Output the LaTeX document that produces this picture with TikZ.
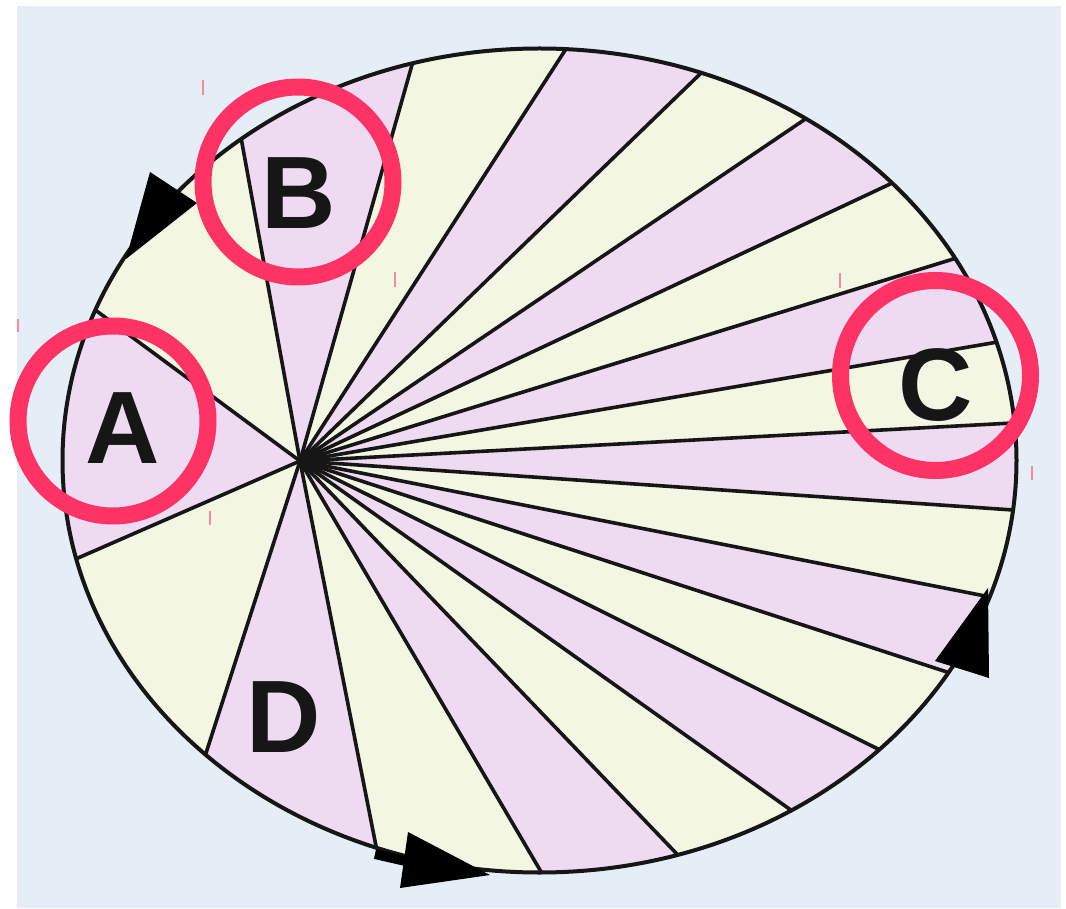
\documentclass[tikz,border=0pt]{standalone}
\usepackage{fontspec}
\setmainfont{Liberation Sans}
\usetikzlibrary{calc}
\definecolor{bgblue}{HTML}{E5EEF7}
\definecolor{pinkfill}{HTML}{EEDAF1}
\definecolor{yellowfill}{HTML}{F2F6E3}
\definecolor{ringred}{HTML}{FF3366}
\definecolor{tickred}{HTML}{F58AA0}
\definecolor{inkdark}{HTML}{161616}
\tikzset{
  spoke/.style={draw=inkdark, line width=3.6pt},
  rim/.style={draw=inkdark, line width=4pt},
  ring/.style={draw=ringred, line width=17pt, circle, minimum size=190pt, inner sep=0pt},
  letter/.style={font=\fontsize{103}{103}\selectfont\bfseries, text=inkdark, inner sep=0pt},
  tickmark/.style={draw=tickred, line width=1.6pt},
  arrowhead/.style={fill=black}
}
\begin{document}
\begin{tikzpicture}[x=1pt,y=-1pt]
\useasboundingbox (0,0) rectangle (1066,909);
\fill[white] (0,0) rectangle (1066,909);
\fill[bgblue] (17,6) rectangle (1061,908);

\coordinate (E) at (539.5,460.5);
\coordinate (F) at (300,461);
\coordinate (p1) at (98,312);
\coordinate (p2) at (242,143);
\coordinate (p3) at (410,72);
\coordinate (p4) at (564,52);
\coordinate (p5) at (697,77);
\coordinate (p6) at (801,122);
\coordinate (p7) at (888,185);
\coordinate (p8) at (950,260);
\coordinate (p9) at (992,343);
\coordinate (p10) at (1013,423);
\coordinate (p11) at (1013,510);
\coordinate (p12) at (980,595);
\coordinate (p13) at (950,673);
\coordinate (p14) at (878,749);
\coordinate (p15) at (788,808);
\coordinate (p16) at (675,852);
\coordinate (p17) at (540,870);
\coordinate (p18) at (376,846);
\coordinate (p19) at (207,750);
\coordinate (p20) at (78,558);

\begin{scope}
  \clip (E) ellipse [x radius=477pt, y radius=412pt];
  \fill[yellowfill] (E) ellipse [x radius=477pt, y radius=412pt];
  \foreach \i/\j/\c in {1/2/yellowfill,2/3/pinkfill,3/4/yellowfill,4/5/pinkfill,
      5/6/yellowfill,6/7/pinkfill,7/8/yellowfill,8/9/pinkfill,9/10/yellowfill,
      10/11/pinkfill,11/12/yellowfill,12/13/pinkfill,13/14/yellowfill,14/15/pinkfill,
      15/16/yellowfill,16/17/pinkfill,17/18/yellowfill,18/19/pinkfill,
      19/20/yellowfill,20/1/pinkfill}
    \fill[\c] (F) -- ($(F)!1.8!(p\i)$) -- ($(F)!1.8!(p\j)$) -- cycle;
  \foreach \i in {1,...,20}
    \draw[spoke] (F) -- ($(F)!1.1!(p\i)$);
\end{scope}
\draw[rim] (E) ellipse [x radius=477pt, y radius=412pt];

% arrowheads on the orbit
\fill[arrowhead] (150,172) -- (197,203) -- (126,259) -- cycle;
\fill[arrowhead] (988,588) -- (935,661) -- (989,678) -- cycle;
\coordinate (s1) at (375,854);
\coordinate (s2) at (410,862);
\draw[line width=10pt, black] (s1) -- (s2);
\fill[arrowhead] (408,832) -- (490,875) -- (400,888) -- cycle;

% rings and letters
\node[ring] (ringA) at (113,421) {};
\node[ring] (ringB) at (298,182) {};
\node[ring] (ringC) at (935.5,375.5) {};
\node[letter] (A) at (123,428) {A};
\node[letter] (B) at (299,193) {B};
\node[letter] (C) at (936,385) {C};
\node[letter] (D) at (284,717) {D};

% small tick marks
\draw[tickmark] (203,80) -- (203,95);
\draw[tickmark] (18,319) -- (18,332);
\draw[tickmark] (395,272) -- (395,287);
\draw[tickmark] (840,273) -- (840,288);
\draw[tickmark] (1032,466) -- (1032,480);
\draw[tickmark] (210,511) -- (210,525);
\end{tikzpicture}
\end{document}
